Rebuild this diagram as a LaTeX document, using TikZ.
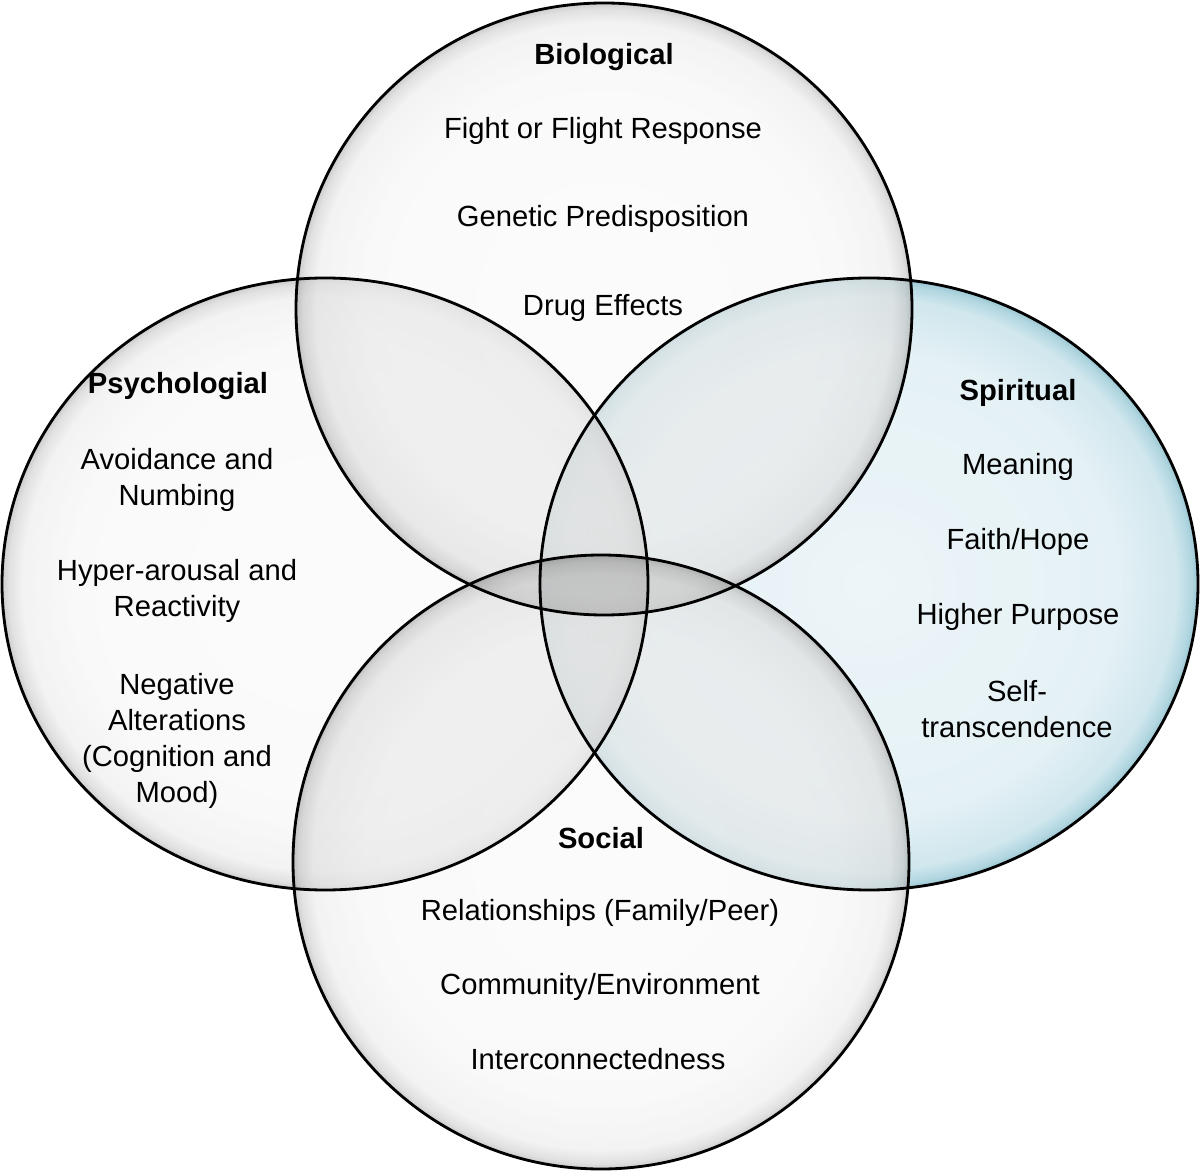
\documentclass[tikz,border=0pt]{standalone}
\usepackage{fontspec}
\setmainfont{Liberation Sans}

\definecolor{spiA}{RGB}{234,244,247}
\definecolor{spiB}{RGB}{224,239,244}
\definecolor{spiC}{RGB}{200,227,235}
\definecolor{spiD}{RGB}{165,208,220}
\definecolor{spiE}{RGB}{140,190,204}

\pgfdeclareradialshading{bubblegrey}{\pgfpoint{0bp}{0bp}}{color(0bp)=(black!2); color(19bp)=(black!3); color(23.4bp)=(black!7); color(24.5bp)=(black!18); color(25bp)=(black!30); color(50bp)=(black!30)}
\pgfdeclareradialshading{bubbleblue}{\pgfpoint{0bp}{0bp}}{color(0bp)=(spiA); color(19bp)=(spiB); color(23.4bp)=(spiC); color(24.5bp)=(spiD); color(25bp)=(spiE); color(50bp)=(spiE)}

% the four rings, in pixel units
\newcommand{\bioring}{(604,863) ellipse [x radius=308, y radius=306]}
\newcommand{\psyring}{(325,588) ellipse [x radius=323, y radius=306]}
\newcommand{\spiring}{(869,588) ellipse [x radius=329, y radius=306]}
\newcommand{\socring}{(601,310) ellipse [x radius=308, y radius=307]}

\begin{document}
\begin{tikzpicture}[x=0.01cm,y=0.01cm,
		lbl/.style={align=center,inner sep=0pt,font=\fontsize{8.3}{10.3}\selectfont},
		head/.style={lbl,font=\fontsize{8.3}{10.3}\selectfont\bfseries},
		ring/.style={draw=black,line width=0.8pt}]
		\useasboundingbox[fill=white] (0,0) rectangle (1200,1172);

		% bubbles
		\shade[shading=bubbleblue,opacity=0.85] \spiring;
		\shade[shading=bubblegrey,opacity=0.65] \psyring;
		\shade[shading=bubblegrey,opacity=0.65] \bioring;
		\shade[shading=bubblegrey,opacity=0.65] \socring;

		% overlaps
		\begin{scope}
			\clip \bioring;
			\fill[black,opacity=0.035] \psyring;
			\fill[black,opacity=0.035] \spiring;
			\fill[black,opacity=0.035] \socring;
		\end{scope}
		\begin{scope}
			\clip \socring;
			\fill[black,opacity=0.035] \psyring;
			\fill[black,opacity=0.035] \spiring;
		\end{scope}

		\draw[ring] \bioring;
		\draw[ring] \psyring;
		\draw[ring] \spiring;
		\draw[ring] \socring;

		% Biological
		\node[head] at (604,1115) (bio) {Biological};
		\node[lbl] at (603,1041) (bioa) {Fight or Flight Response};
		\node[lbl] at (603,953) (biob) {Genetic Predisposition};
		\node[lbl] at (603,864) (bioc) {Drug Effects};

		% Psychologial
		\node[head] at (178,786) (psy) {Psychologial};
		\node[lbl] at (177,692) (psya) {Avoidance and\\Numbing};
		\node[lbl] at (177,581) (psyb) {Hyper-arousal and\\Reactivity};
		\node[lbl] at (177,431) (psyc) {Negative\\Alterations\\(Cognition and\\Mood)};

		% Spiritual
		\node[head] at (1018,779) (spi) {Spiritual};
		\node[lbl] at (1018,705) (spia) {Meaning};
		\node[lbl] at (1018,630) (spib) {Faith/Hope};
		\node[lbl] at (1018,555) (spic) {Higher Purpose};
		\node[lbl] at (1017,463) (spid) {Self-\\transcendence};

		% Social
		\node[head] at (601,334) (soc) {Social};
		\node[lbl] at (600,259) (soca) {Relationships (Family/Peer)};
		\node[lbl] at (600,185) (socb) {Community/Environment};
		\node[lbl] at (598,113) (socc) {Interconnectedness};
	\end{tikzpicture}
\end{document}
